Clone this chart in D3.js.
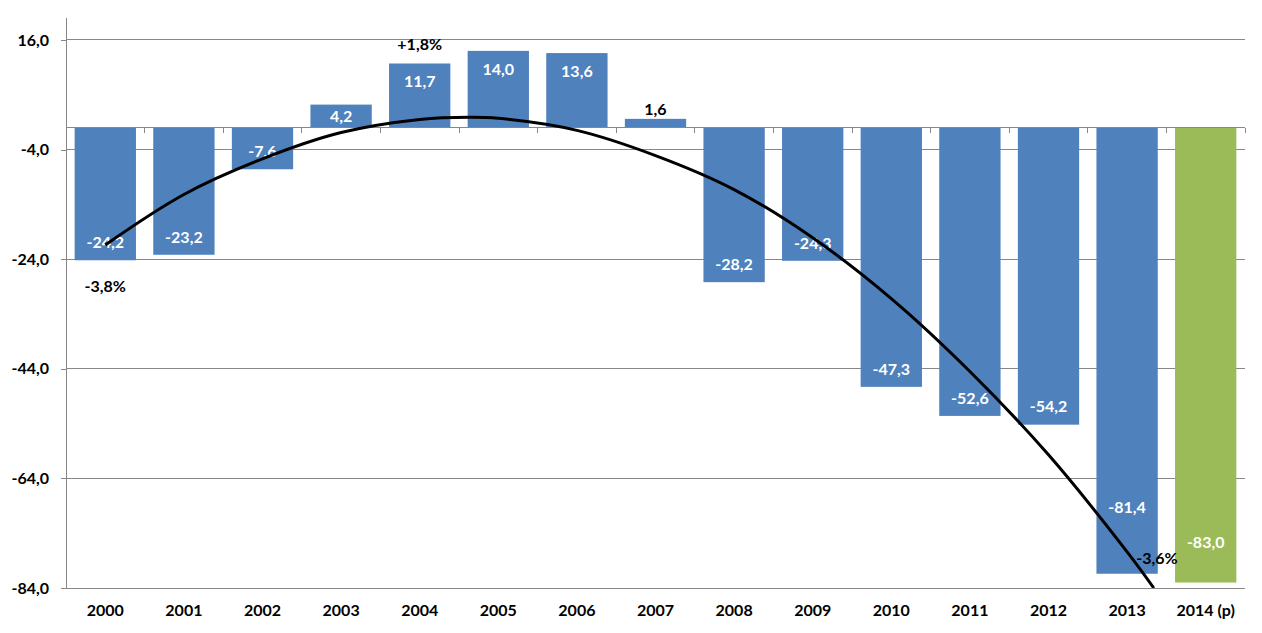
<!DOCTYPE html>
<html>
<head>
<meta charset="utf-8">
<script src="https://cdn.jsdelivr.net/npm/d3@7/dist/d3.min.js"></script>
<style>
  html, body { margin: 0; padding: 0; background: #fff; }
  svg { display: block; }
  text { font-family: Lato, "Open Sans", "DejaVu Sans", sans-serif; font-weight: bold; }
</style>
</head>
<body>
<svg id="chart" width="1262" height="633"></svg>
<script>
// ---- data ----
const categories = ["2000","2001","2002","2003","2004","2005","2006","2007","2008","2009","2010","2011","2012","2013","2014 (p)"];
const values = [-24.2, -23.2, -7.6, 4.2, 11.7, 14.0, 13.6, 1.6, -28.2, -24.3, -47.3, -52.6, -54.2, -81.4, -83.0];
const projected = [false,false,false,false,false,false,false,false,false,false,false,false,false,false,true];
const valueLabels = ["-24,2","-23,2","-7,6","4,2","11,7","14,0","13,6","1,6","-28,2","-24,3","-47,3","-52,6","-54,2","-81,4","-83,0"];
const yTicks = [-84, -64, -44, -24, -4, 16];
const yTickLabels = ["-84,0","-64,0","-44,0","-24,0","-4,0","16,0"];
// trend curve (category index, value)
const trendIndex = [0, 1, 2, 3, 4, 4.64, 5, 6, 7, 8, 9, 10, 11, 12, 13, 13.34];
const trendValues = [-21.4, -12.2, -5.7, -0.9, 1.5, 1.9, 1.7, -0.5, -5.1, -11.3, -20.1, -31.2, -44.5, -59.7, -77.4, -84.0];
// growth annotations (category index, value anchor, text)
const annotIndex = [0, 4, 13.38];
const annotValue = [-29.0, 15.2, -78.6];
const annotText = ["-3,8%", "+1,8%", "-3,6%"];

// ---- layout ----
(function () {
const svg = d3.select("#chart");
const L = 66, R = 1245, T = 18, B = 588;
const blue = "#4F81BD", green = "#9BBB59", grid = "#878787";

const x = d3.scaleBand().domain(categories).range([L, R]).paddingInner(0.22).paddingOuter(0.11);
const y = d3.scaleLinear().domain([-84, 20]).range([B, T]);
const step = x.step();
const xi = i => x(categories[0]) + x.bandwidth() / 2 + i * step;

// gridlines
svg.append("g").selectAll("line").data(yTicks).join("line")
  .attr("x1", L).attr("x2", R)
  .attr("y1", d => y(d)).attr("y2", d => y(d))
  .attr("stroke", grid).attr("stroke-width", 1).attr("shape-rendering", "crispEdges");

// y axis
const yAxis = d3.axisLeft(y).tickValues(yTicks).tickSize(5).tickPadding(12)
  .tickFormat((d, i) => yTickLabels[i]);
const gy = svg.append("g").attr("transform", `translate(${L},0)`).call(yAxis);
gy.select(".domain").attr("stroke", grid).attr("d", `M0,${T}V${B}`).attr("shape-rendering", "crispEdges");
gy.selectAll(".tick line").attr("stroke", grid).attr("shape-rendering", "crispEdges");
gy.selectAll(".tick text").attr("fill", "#000").style("font-size", "16px").style("font-family", "Lato, sans-serif").style("font-weight", "bold");

// bars
svg.append("g").selectAll("rect").data(values).join("rect")
  .attr("x", (d, i) => x(categories[i]))
  .attr("width", x.bandwidth())
  .attr("y", d => y(Math.max(0, d)))
  .attr("height", d => Math.abs(y(d) - y(0)))
  .attr("fill", (d, i) => projected[i] ? green : blue);

// zero axis with category ticks
const gx = svg.append("g");
gx.append("line").attr("x1", L).attr("x2", R).attr("y1", y(0)).attr("y2", y(0))
  .attr("stroke", grid).attr("shape-rendering", "crispEdges");
gx.selectAll("line.t").data(d3.range(1, categories.length + 1)).join("line").attr("class", "t")
  .attr("x1", i => L + i * step).attr("x2", i => L + i * step)
  .attr("y1", y(0)).attr("y2", y(0) + 5)
  .attr("stroke", grid).attr("shape-rendering", "crispEdges");

// x labels
const xAxis = d3.axisBottom(x).tickSize(0).tickPadding(0);
const gxl = svg.append("g").attr("transform", `translate(0,${B + 17})`).call(xAxis);
gxl.select(".domain").remove();
gxl.selectAll(".tick text").attr("fill", "#000").attr("dy", "0.71em")
  .style("font-size", "16px").style("font-family", "Lato, sans-serif").style("font-weight", "bold");

// value labels
const nudge = {13: -49, 14: -22};
svg.append("g").selectAll("text").data(values).join("text")
  .attr("text-anchor", "middle")
  .attr("x", (d, i) => x(categories[i]) + x.bandwidth() / 2)
  .attr("y", (d, i) => {
    const h = Math.abs(y(d) - y(0));
    let cy;
    if (h < 15) cy = y(d) - 10;
    else if (d >= 0) cy = y(d) + Math.min(18, h / 2);
    else cy = y(d) - 18;
    return cy + (nudge[i] || 0);
  })
  .attr("dy", "0.36em")
  .attr("fill", d => Math.abs(y(d) - y(0)) < 15 ? "#000" : "#fff")
  .style("font-size", "16px")
  .text((d, i) => valueLabels[i]);

// trend curve
svg.append("clipPath").attr("id", "plotclip").append("rect")
  .attr("x", L).attr("y", T).attr("width", R - L).attr("height", B - T);
const line = d3.line().x(d => xi(d[0])).y(d => y(d[1])).curve(d3.curveCatmullRom.alpha(0.5));
svg.append("path")
  .datum(trendIndex.map((t, i) => [t, trendValues[i]]))
  .attr("d", line).attr("fill", "none").attr("stroke", "#000").attr("stroke-width", 3)
  .attr("clip-path", "url(#plotclip)");

// annotations
svg.append("g").selectAll("text").data(annotText).join("text")
  .attr("text-anchor", "middle")
  .attr("x", (d, i) => xi(annotIndex[i]))
  .attr("y", (d, i) => y(annotValue[i]))
  .attr("dy", "0.36em")
  .attr("fill", "#000")
  .style("font-size", "16px")
  .text(d => d);
})();
</script>
</body>
</html>
